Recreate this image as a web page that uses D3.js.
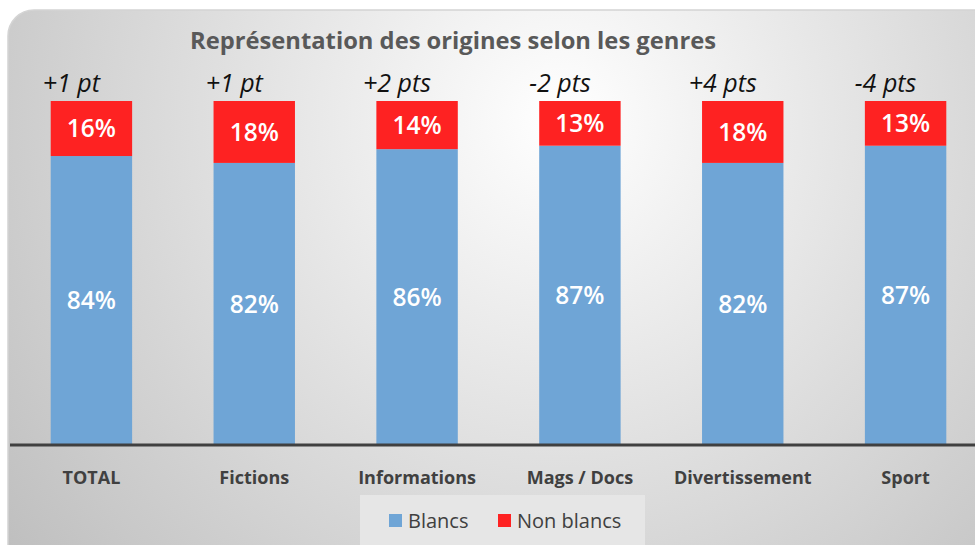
<!DOCTYPE html>
<html><head><meta charset="utf-8">
<script src="https://cdn.jsdelivr.net/npm/d3@7"></script>
<style>html,body{margin:0;padding:0;background:#fff;overflow:hidden}</style>
</head><body>
<svg id="c" width="975" height="545"></svg>
<script>
const categories = ["TOTAL","Fictions","Informations","Mags / Docs","Divertissement","Sport"];
const blancs = [84,82,86,87,82,87];
const nonBlancs = [16,18,14,13,18,13];
const evolutions = ["+1 pt","+1 pt","+2 pts","-2 pts","+4 pts","-4 pts"];
const seriesNames = ["Blancs","Non blancs"];
const colors = ["#6fa5d6","#fe2222"];
const title = "Représentation des origines selon les genres";

const svg = d3.select("#c");
const defs = svg.append("defs");
const g = defs.append("radialGradient").attr("id","bg")
  .attr("gradientUnits","userSpaceOnUse").attr("cx",560).attr("cy",120).attr("r",720);
g.append("stop").attr("offset","0%").attr("stop-color","#ffffff");
g.append("stop").attr("offset","100%").attr("stop-color","#bdbdbd");

svg.append("rect").attr("x",8).attr("y",10).attr("width",1010).attr("height",580)
  .attr("rx",26).attr("fill","url(#bg)").attr("stroke","#d4d4d4").attr("stroke-width",1.5);

const font = "'Open Sans', 'Noto Sans', sans-serif";
const x = d3.scaleBand().domain(categories).range([10, 987]).paddingInner(0.5).paddingOuter(0.25);
const y = d3.scaleLinear().domain([0,100]).range([445,101]);

svg.append("text").attr("x",453).attr("y",49).attr("text-anchor","middle")
  .attr("font-family",font).attr("font-weight","bold").attr("font-size",24)
  .attr("fill","#595959").attr("textLength",526).attr("lengthAdjust","spacingAndGlyphs").text(title);

const data = categories.map((c,i)=>({c, b:blancs[i], n:nonBlancs[i], e:evolutions[i]}));

const gb = svg.append("g");
gb.selectAll("rect.b").data(data).join("rect").attr("class","b")
  .attr("x",d=>x(d.c)).attr("width",x.bandwidth())
  .attr("y",d=>y(d.b)).attr("height",d=>y(0)-y(d.b)).attr("fill",colors[0]);
gb.selectAll("rect.n").data(data).join("rect").attr("class","n")
  .attr("x",d=>x(d.c)).attr("width",x.bandwidth())
  .attr("y",d=>y(d.b+d.n)).attr("height",d=>y(d.b)-y(d.b+d.n)).attr("fill",colors[1]);

gb.selectAll("text.bl").data(data).join("text").attr("class","bl")
  .attr("x",d=>x(d.c)+x.bandwidth()/2).attr("y",d=>(y(0)+y(d.b))/2).attr("dy","0.36em")
  .attr("text-anchor","middle").attr("font-family",font).attr("font-size",24.5).attr("font-weight",600)
  .attr("fill","#fff").text(d=>d.b+"%");
gb.selectAll("text.nl").data(data).join("text").attr("class","nl")
  .attr("x",d=>x(d.c)+x.bandwidth()/2).attr("y",d=>(y(d.b)+y(d.b+d.n))/2).attr("dy","0.36em")
  .attr("text-anchor","middle").attr("font-family",font).attr("font-size",24.5).attr("font-weight",600)
  .attr("fill","#fff").text(d=>d.n+"%");
gb.selectAll("text.ev").data(data).join("text").attr("class","ev")
  .attr("x",d=>x(d.c)+x.bandwidth()/2-20).attr("y",92)
  .attr("text-anchor","middle").attr("font-family",font).attr("font-size",25).attr("font-style","italic")
  .attr("fill","#111").text(d=>d.e);

// axis
const ax = svg.append("g").attr("transform","translate(0,445)")
  .call(d3.axisBottom(x).tickSize(0).tickPadding(26));
ax.select(".domain").attr("d","M10,0H975").attr("stroke","#404040").attr("stroke-width",3);
ax.selectAll("text").attr("font-family",font).attr("font-size",18).attr("font-weight","bold")
  .attr("fill","#404040");

// legend
const lg = svg.append("g");
lg.append("rect").attr("x",360).attr("y",495).attr("width",285).attr("height",60).attr("fill","#e6e6e6");
const items = [{n:seriesNames[0],c:colors[0],x:389},{n:seriesNames[1],c:colors[1],x:498}];
items.forEach(it=>{
  lg.append("rect").attr("x",it.x).attr("y",514).attr("width",13).attr("height",13).attr("fill",it.c);
  lg.append("text").attr("x",it.x+19).attr("y",521).attr("dy","0.35em").attr("font-family",font)
    .attr("font-size",20).attr("fill","#404040").text(it.n);
});
</script>
</body></html>
